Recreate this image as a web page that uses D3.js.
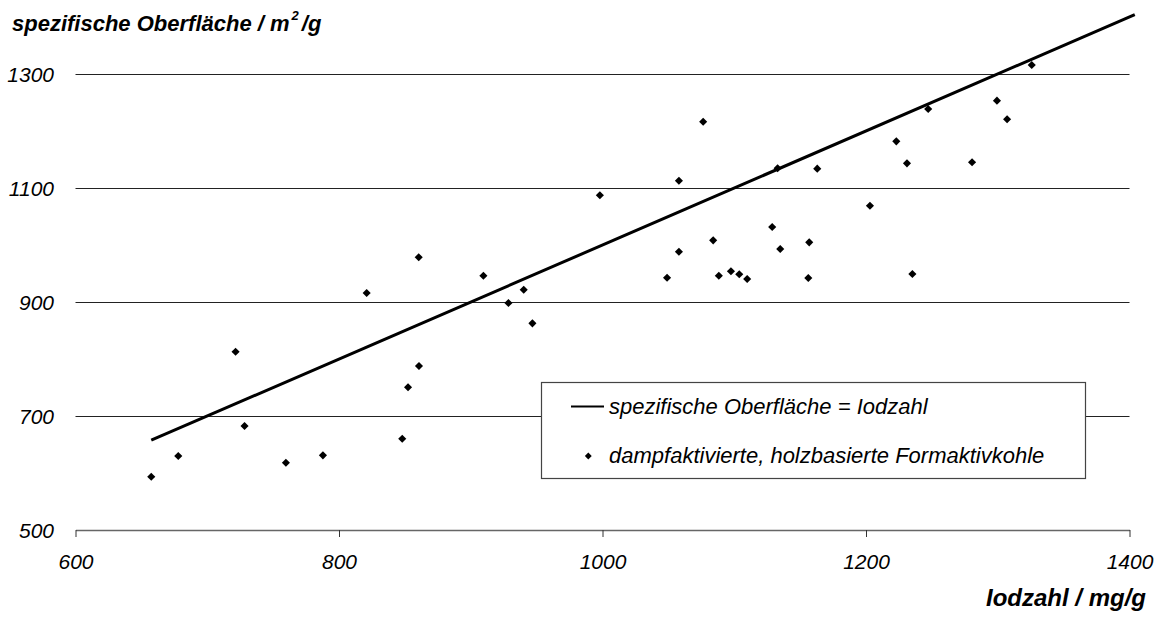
<!DOCTYPE html>
<html><head><meta charset="utf-8">
<script src="https://cdn.jsdelivr.net/npm/d3@7"></script>
<style>
body{margin:0;background:#fff;}
text{font-family:"Liberation Sans",Arial,sans-serif;}
</style></head>
<body><svg id="c" width="1164" height="617"></svg>
<script>
const xTicks = [600, 800, 1000, 1200, 1400];
const yTicks = [500, 700, 900, 1100, 1300];
const iodzahl = [657.5,678,721.5,728.3,759.7,787.8,821,848,852.4,860.5,860.7,909.6,928.6,940.2,946.8,998,1049,1058,1058,1076.4,1084,1088.3,1097.5,1103.8,1109.8,1128.8,1132.9,1134.9,1156.2,1156.9,1163,1203,1223,1231.1,1235.2,1247.2,1280.5,1299.4,1307.1,1325.8];
const oberflaeche = [593.5,629.8,812.8,682.5,618,631,915.8,660.2,750.4,978.4,787.7,946.1,898.2,921.6,862.6,1087.2,942.6,1112.8,988.2,1216.3,1008.2,946.1,953.9,948.6,940.4,1031.6,1134.6,993,942.1,1004.7,1133.9,1068.9,1181.9,1143.3,949.1,1238.6,1145.1,1253.2,1220.5,1315.8];
const lineX = [657.5, 1404];
const lineY = [657.5, 1404];
const legendLabels = ["spezifische Oberfläche = Iodzahl", "dampfaktivierte, holzbasierte Formaktivkohle"];

const svg = d3.select("#c");
const x = d3.scaleLinear().domain([600,1400]).range([75.5,1129.5]);
const y = d3.scaleLinear().domain([500,1300]).range([530,74]);

// gridlines
svg.append("g").selectAll("line").data(yTicks.filter(d=>d>500)).join("line")
  .attr("x1",x(600)).attr("x2",x(1400)).attr("y1",d=>y(d)+0.5).attr("y2",d=>y(d)+0.5)
  .attr("stroke","#222").attr("stroke-width",1);

// x axis
const xa = svg.append("g").attr("transform",`translate(0,${y(500)})`)
  .call(d3.axisBottom(x).tickValues(xTicks).tickSize(7).tickSizeOuter(0).tickFormat(d3.format("d")));
xa.select(".domain").attr("stroke","#666").attr("stroke-width",1.6);
xa.selectAll(".tick line").attr("stroke","#333");
xa.selectAll(".tick text").attr("font-size",21).attr("font-style","italic")
  .attr("font-family","Liberation Sans, Arial, sans-serif").attr("fill","#000").attr("dy",null).attr("y",39);

// y tick labels
svg.append("g").selectAll("text").data(yTicks).join("text")
  .attr("x",54).attr("y",d=>y(d)+7.5).attr("text-anchor","end")
  .attr("font-size",21).attr("font-style","italic").text(d=>d);

// y=x line
svg.append("line")
  .attr("x1",x(lineX[0])).attr("y1",y(lineY[0])).attr("x2",x(lineX[1])).attr("y2",y(lineY[1]))
  .attr("stroke","#000").attr("stroke-width",3);

// points
const diamond = d3.symbol().type(d3.symbolDiamond2).size(42);
svg.append("g").selectAll("path").data(iodzahl.map((v,i)=>[v,oberflaeche[i]])).join("path")
  .attr("d",diamond).attr("transform",d=>`translate(${x(d[0])},${y(d[1])})`).attr("fill","#000");

// legend
const lg = svg.append("g");
lg.append("rect").attr("x",541.5).attr("y",382.5).attr("width",544).attr("height",96)
  .attr("fill","#fff").attr("stroke","#444").attr("stroke-width",1.2);
lg.append("line").attr("x1",571).attr("x2",604).attr("y1",406.5).attr("y2",406.5).attr("stroke","#000").attr("stroke-width",2);
lg.append("text").attr("x",609).attr("y",413.5).attr("font-size",22).attr("font-style","italic").text(legendLabels[0]);
lg.append("path").attr("d",d3.symbol().type(d3.symbolDiamond2).size(30)).attr("transform","translate(588.3,456)");
lg.append("text").attr("x",609).attr("y",463).attr("font-size",22).attr("font-style","italic").text(legendLabels[1]);

// titles
const t = svg.append("text").attr("x",12).attr("y",31).attr("font-size",22).attr("font-weight","bold").attr("font-style","italic");
t.append("tspan").text("spezifische Oberfläche / m");
t.append("tspan").attr("font-size",13).attr("dy",-11).attr("dx",2).text("2");
t.append("tspan").attr("dy",11).attr("dx",3).text("/g");
svg.append("text").attr("x",1146).attr("y",606).attr("text-anchor","end").attr("font-size",24)
  .attr("font-weight","bold").attr("font-style","italic").text("Iodzahl / mg/g");
</script></body></html>
